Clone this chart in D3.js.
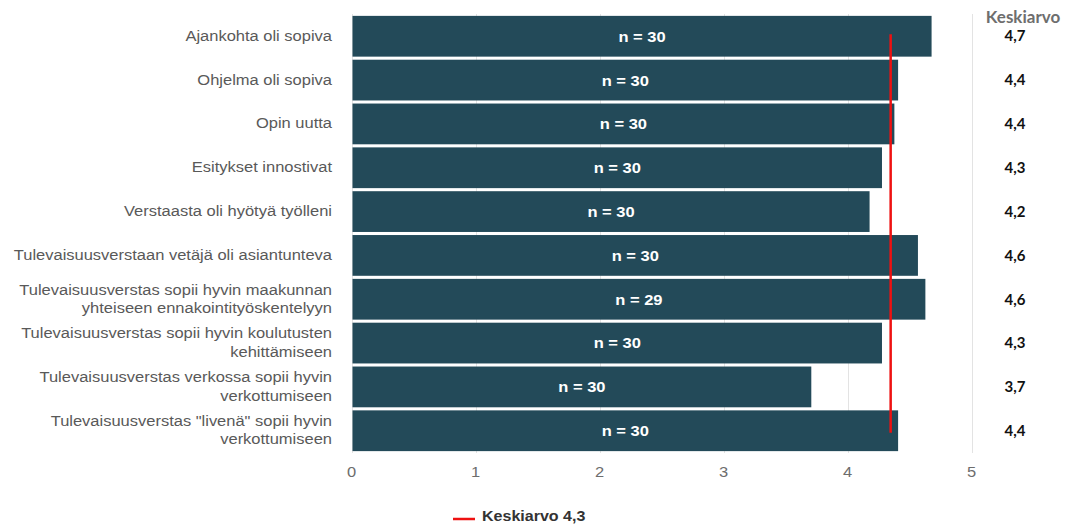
<!DOCTYPE html>
<html><head><meta charset="utf-8">
<script src="https://cdn.jsdelivr.net/npm/d3@7"></script>
<style>body{margin:0;background:#fff;} text{font-family:"Liberation Sans",Arial,sans-serif;}</style>
</head><body>
<svg id="c" width="1067" height="526"></svg>
<script>
const categories = [
  ["Ajankohta oli sopiva"],
  ["Ohjelma oli sopiva"],
  ["Opin uutta"],
  ["Esitykset innostivat"],
  ["Verstaasta oli hyötyä työlleni"],
  ["Tulevaisuusverstaan vetäjä oli asiantunteva"],
  ["Tulevaisuusverstas sopii hyvin maakunnan", "yhteiseen ennakointityöskentelyyn"],
  ["Tulevaisuusverstas sopii hyvin koulutusten", "kehittämiseen"],
  ["Tulevaisuusverstas verkossa sopii hyvin", "verkottumiseen"],
  ["Tulevaisuusverstas \"livenä\" sopii hyvin", "verkottumiseen"]
];
const values = [4.67, 4.40, 4.37, 4.27, 4.17, 4.56, 4.62, 4.27, 3.70, 4.40];
const nLabels = [30, 30, 30, 30, 30, 30, 29, 30, 30, 30];
const meanLabels = ["4,7","4,4","4,4","4,3","4,2","4,6","4,6","4,3","3,7","4,4"];
const xTicks = [0, 1, 2, 3, 4, 5];
const overallMean = 4.34;
const overallMeanLabel = "4,3";

const SX = 1.1;
const svg = d3.select("#c");
const x = d3.scaleLinear().domain([0, 5]).range([352.5, 972.5]);
const y = d3.scaleBand().domain(d3.range(values.length)).range([15, 452]).paddingInner(0.07).paddingOuter(0.02);

function tr(px, py) { return `translate(${px},${py}) scale(${SX},1)`; }

// grid
svg.append("g").selectAll("line").data(xTicks).join("line")
  .attr("x1", d => x(d)).attr("x2", d => x(d))
  .attr("y1", 14).attr("y2", 453)
  .attr("stroke", "#e3e3e3").attr("stroke-width", 1);

// bars
svg.append("g").selectAll("rect").data(values).join("rect")
  .attr("x", x(0)).attr("y", (d, i) => y(i))
  .attr("width", d => x(d) - x(0)).attr("height", y.bandwidth())
  .attr("fill", "#234a59");

// n labels
svg.append("g").selectAll("text").data(values).join("text")
  .attr("transform", (d, i) => tr((x(0) + x(d)) / 2, y(i) + y.bandwidth() / 2))
  .attr("dy", "0.36em").attr("text-anchor", "middle")
  .attr("fill", "#fff").attr("font-weight", "bold").attr("font-size", 15)
  .text((d, i) => "n = " + nLabels[i]);

// category labels
const cl = svg.append("g").selectAll("text").data(categories).join("text")
  .attr("text-anchor", "end").attr("fill", "#595959").attr("font-size", 15)
  .attr("transform", (d, i) => tr(332, y(i) + y.bandwidth() / 2));
cl.each(function(lines) {
  const t = d3.select(this);
  const lh = 18.5;
  lines.forEach((ln, k) => {
    t.append("tspan").attr("x", 0)
      .attr("y", (k - (lines.length - 1) / 2) * lh)
      .attr("dy", "0.3em").text(ln);
  });
});

// x axis labels
svg.append("g").selectAll("text").data(xTicks).join("text")
  .attr("transform", d => tr(x(d) - 1, 472))
  .attr("dy", "0.36em")
  .attr("text-anchor", "middle").attr("fill", "#6d6d6d").attr("font-size", 15)
  .text(d => d);

// mean line
svg.append("line")
  .attr("x1", x(overallMean)).attr("x2", x(overallMean))
  .attr("y1", y(0) + y.bandwidth() / 2 - 2).attr("y2", y(values.length - 1) + y.bandwidth() / 2 + 2)
  .attr("stroke", "#ee1111").attr("stroke-width", 2.5);

// right column
svg.append("text").attr("x", 1023).attr("y", 23)
  .attr("text-anchor", "middle").attr("fill", "#6e6e6e").attr("font-weight", "bold")
  .attr("font-size", 17).style("font-family", "Lato, sans-serif").text("Keskiarvo");
svg.append("g").selectAll("text").data(meanLabels).join("text")
  .attr("x", 1015).attr("y", (d, i) => i === 0 ? 36 : y(i) + y.bandwidth() / 2)
  .attr("dy", "0.36em").attr("text-anchor", "middle")
  .attr("fill", "#111").attr("font-weight", "bold").attr("font-size", 15)
  .style("font-family", "Lato, sans-serif")
  .text(d => d);

// legend
svg.append("line").attr("x1", 453).attr("x2", 475).attr("y1", 519).attr("y2", 519)
  .attr("stroke", "#ee1111").attr("stroke-width", 2.5);
svg.append("text").attr("transform", `translate(482,520.5) scale(1.07,1)`)
  .attr("fill", "#333").attr("font-weight", "bold").attr("font-size", 15)
  .text("Keskiarvo " + overallMeanLabel);
</script>
</body></html>
